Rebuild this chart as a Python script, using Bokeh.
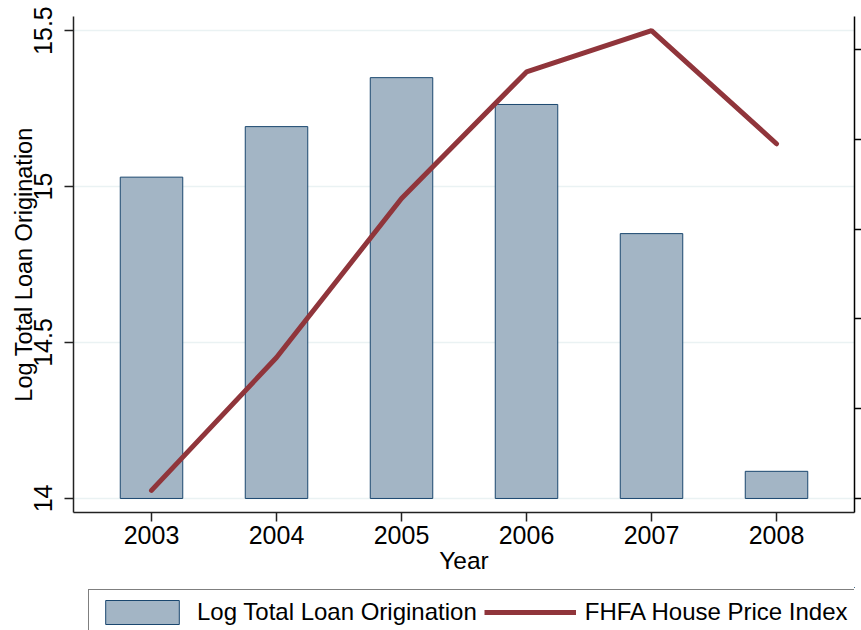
from bokeh.plotting import figure
from bokeh.layouts import column
from bokeh.models import (Range1d, LinearAxis, FixedTicker, CustomJSTickFormatter,
                          Legend, LegendItem)
from bokeh.embed import file_html
from bokeh.resources import INLINE

# ---- data ----
years = [2003, 2004, 2005, 2006, 2007, 2008]
log_loan = [15.030, 15.192, 15.349, 15.263, 14.849, 14.087]   # left axis (bars)
hpi = [180.9, 195.7, 213.4, 227.5, 232.1, 219.5]              # right axis (line)
left_ticks = [14, 14.5, 15, 15.5]
right_ticks = [180, 190, 200, 210, 220, 230]
bar_base = 14
series_names = ["Log Total Loan Origination", "FHFA House Price Index"]

FONT = "Liberation Sans"
BAR_FILL = "#a3b5c5"
BAR_LINE = "#1a476f"
LINE_COL = "#90353b"
GRID_COL = "#eaf2f3"

p = figure(width=861, height=587, output_backend="svg", toolbar_location=None,
           x_range=Range1d(2002.376, 2008.624), y_range=Range1d(13.955, 15.545),
           min_border_left=73, min_border_top=16, min_border_right=0,
           min_border_bottom=75, background_fill_color="white",
           border_fill_color="white")
p.extra_y_ranges = {"hpi": Range1d(178.44, 233.67)}
p.outline_line_color = None

p.xgrid.visible = False
p.ygrid.ticker = FixedTicker(ticks=left_ticks)
p.ygrid.grid_line_color = GRID_COL
p.ygrid.grid_line_width = 1.5

bars = p.vbar(x=years, top=log_loan, bottom=bar_base, width=0.5,
              fill_color=BAR_FILL, line_color=BAR_LINE, line_width=1)
ln = p.line(years, hpi, y_range_name="hpi", line_color=LINE_COL, line_width=5,
            line_cap="round")

# x axis
xa = p.xaxis[0]
xa.ticker = FixedTicker(ticks=years)
xa.axis_label = "Year"
xa.axis_label_text_font = FONT
xa.axis_label_text_font_size = "24.5px"
xa.axis_label_text_font_style = "normal"
xa.axis_label_text_color = "black"
xa.axis_label_standoff = 0
xa.major_label_text_font = FONT
xa.major_label_text_font_size = "25px"
xa.major_label_text_color = "black"
xa.major_label_standoff = 4
xa.major_tick_out = 9
xa.major_tick_in = 0
xa.minor_tick_line_color = None
xa.axis_line_color = "#222222"
xa.axis_line_width = 1.5
xa.major_tick_line_color = "#222222"
xa.major_tick_line_width = 1.5

# left axis
ya = p.yaxis[0]
ya.ticker = FixedTicker(ticks=left_ticks)
ya.formatter = CustomJSTickFormatter(code="return tick.toString();")
ya.axis_label = series_names[0]
ya.axis_label_text_font = FONT
ya.axis_label_text_font_size = "23.5px"
ya.axis_label_text_font_style = "normal"
ya.axis_label_text_color = "black"
ya.axis_label_standoff = -5
ya.major_label_orientation = "vertical"
ya.major_label_text_font = FONT
ya.major_label_text_font_size = "25px"
ya.major_label_text_color = "black"
ya.major_label_standoff = 12
ya.major_tick_out = 9
ya.major_tick_in = 0
ya.minor_tick_line_color = None
ya.axis_line_color = "#222222"
ya.axis_line_width = 1.5
ya.major_tick_line_color = "#222222"
ya.major_tick_line_width = 1.5

# right axis (its labels fall outside the picture in the reference)
ra = LinearAxis(y_range_name="hpi", ticker=FixedTicker(ticks=right_ticks),
                formatter=CustomJSTickFormatter(code="return '';"),
                major_label_standoff=0,
                major_tick_out=7, major_tick_in=0, minor_tick_line_color=None,
                axis_line_color="black", axis_line_width=1.5,
                major_tick_line_color="black", major_tick_line_width=1.5)
p.add_layout(ra, "right")

# legend strip below the chart (its renderers lie outside its own ranges)
lf = figure(width=861, height=43, output_backend="svg", toolbar_location=None,
            x_range=Range1d(0, 1), y_range=Range1d(0, 1),
            x_axis_location=None, y_axis_location=None, min_border=0,
            background_fill_color="white", border_fill_color="white")
lf.outline_line_color = None
lf.grid.visible = False
lb = lf.vbar(x=years, top=log_loan, bottom=bar_base, width=0.5,
             fill_color=BAR_FILL, line_color=BAR_LINE, line_width=1)
ll = lf.line(years, hpi, line_color=LINE_COL, line_width=5)

legend = Legend(items=[LegendItem(label=series_names[0], renderers=[lb]),
                       LegendItem(label=series_names[1], renderers=[ll])],
                orientation="horizontal", location=(15, -5),
                glyph_width=92, glyph_height=30, label_standoff=9, spacing=7,
                padding=7, margin=0,
                label_text_font=FONT, label_text_font_size="24px",
                label_text_color="black",
                border_line_color="black", border_line_width=1,
                background_fill_color="white", background_fill_alpha=1)
lf.add_layout(legend, "center")

layout = column(p, lf, spacing=0)
open("out.html", "w").write(file_html(layout, INLINE))
